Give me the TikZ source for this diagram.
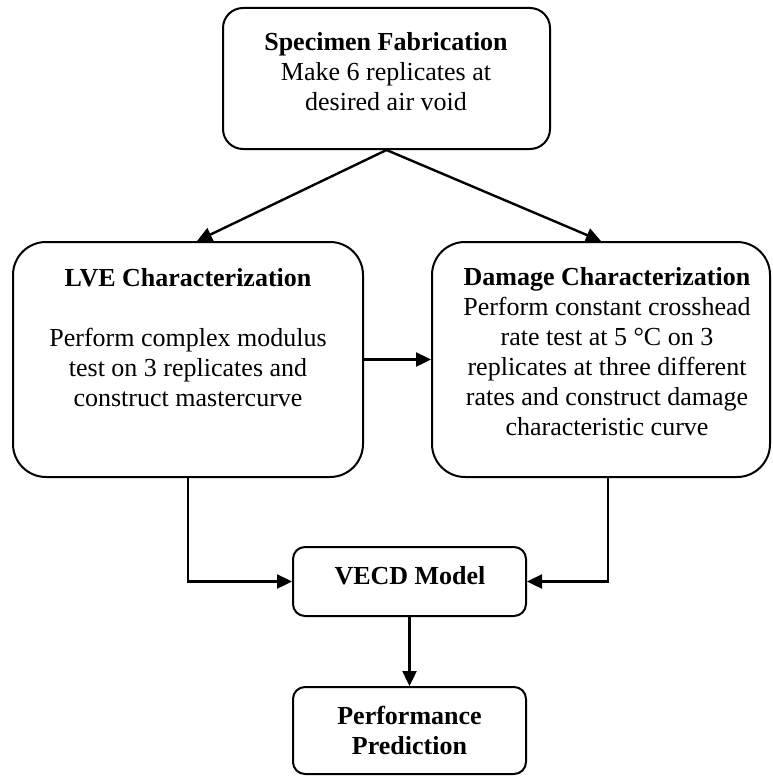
\documentclass[tikz,border=0pt]{standalone}
\usepackage{fontspec}
\setmainfont{Liberation Serif}
\usetikzlibrary{arrows.meta}
\begin{document}
\begin{tikzpicture}[x=1pt,y=-1pt,
  box/.style={draw, line width=2pt, inner sep=0pt, rectangle},
  txt/.style={align=center, inner sep=0pt, font=\fontsize{26}{30}\selectfont},
  conn/.style={line width=2.4pt, -{Triangle[length=15pt,width=14pt]}}]
\useasboundingbox (0,0) rectangle (772,776);
% boxes
\node[box, rounded corners=20pt, minimum width=327pt, minimum height=141pt] (spec) at (386.5,78.5) {};
\node[box, rounded corners=33pt, minimum width=350pt, minimum height=235pt] (lve) at (188,359.5) {};
\node[box, rounded corners=33pt, minimum width=338pt, minimum height=235pt] (dam) at (601,359.5) {};
\node[box, rounded corners=12pt, minimum width=233pt, minimum height=69pt] (vecd) at (409.5,581.5) {};
\node[box, rounded corners=12pt, minimum width=233pt, minimum height=87pt] (perf) at (409.5,730.5) {};
% texts
\node[txt] (spect) at (386,71.2) {\textbf{Specimen Fabrication}\\Make 6 replicates at\\desired air void};
\node[txt] (lvet) at (188,337.7) {\textbf{LVE Characterization}\\[30pt]Perform complex modulus\\test on 3 replicates and\\construct mastercurve};
\node[txt] (damt) at (607,352) {\textbf{Damage Characterization}\\Perform constant crosshead\\rate test at 5 °C on 3\\replicates at three different\\rates and construct damage\\characteristic curve};
\node[txt] (vecdt) at (410,575.2) {\textbf{VECD Model}};
\node[txt] (perft) at (409.5,730.7) {\textbf{Performance}\\\textbf{Prediction}};
% connectors
\draw[conn] (spec.south) -- ([xshift=9pt]lve.north);
\draw[conn] (spec.south) -- (dam.north);
\draw[conn] (lve.east) -- (dam.west);
\draw[conn] (lve.south) |- (vecd.west);
\draw[conn] ([xshift=7pt]dam.south) |- (vecd.east);
\draw[conn] (vecd.south) -- (perf.north);
\end{tikzpicture}
\end{document}
